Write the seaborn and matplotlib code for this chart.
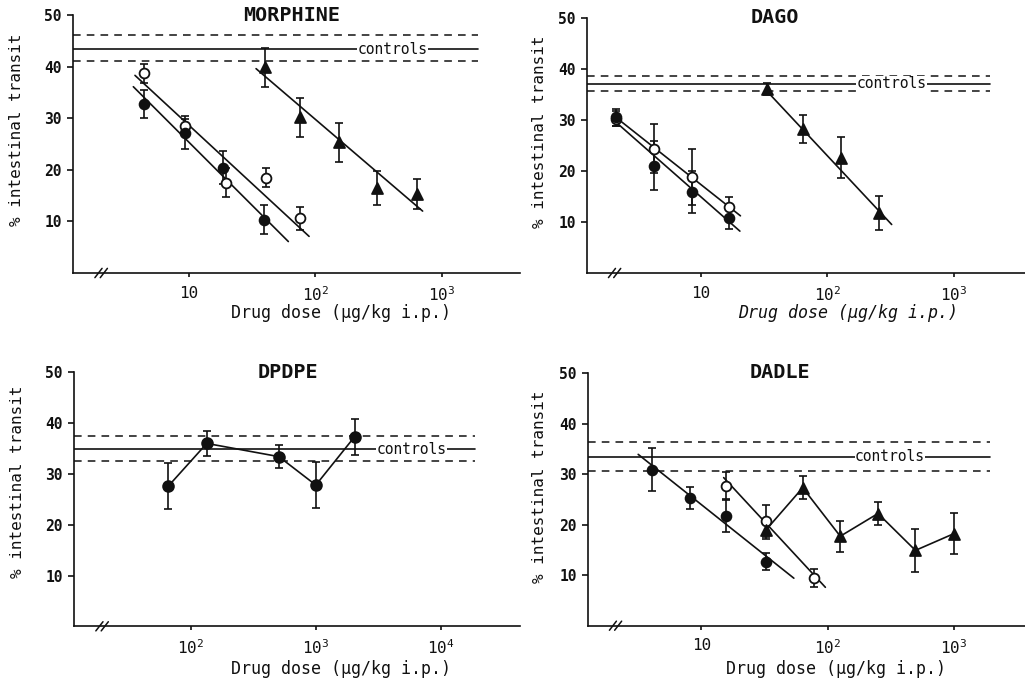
import numpy as np
import pandas as pd
import matplotlib
matplotlib.use("Agg")
import matplotlib.pyplot as plt
import seaborn as sns

sns.set_style("ticks")
plt.rcParams["font.family"] = ["DejaVu Sans Mono", "DejaVu Sans"]
plt.rcParams["mathtext.fontset"] = "custom"
plt.rcParams["mathtext.rm"] = "DejaVu Sans Mono"
plt.rcParams["mathtext.it"] = "DejaVu Sans Mono:italic"
plt.rcParams["mathtext.bf"] = "DejaVu Sans Mono:bold"

# ---------------- MORPHINE ----------------
mor_ctrl = [43.4, 41.0, 46.2]          # mean, lower SEM, upper SEM
mor_open_dose = [4.4, 9.3, 19.6, 40.4, 76]
mor_open_val = [38.7, 28.5, 17.5, 18.5, 10.6]
mor_open_sem = [1.8, 1.3, 2.8, 1.8, 2.2]
mor_fill_dose = [4.4, 9.3, 18.5, 39.4]
mor_fill_val = [32.8, 27.2, 20.4, 10.3]
mor_fill_sem = [2.7, 3.2, 3.2, 2.8]
mor_tri_dose = [40, 75, 153, 309, 630]
mor_tri_val = [39.9, 30.2, 25.3, 16.5, 15.3]
mor_tri_sem = [3.8, 3.8, 3.7, 3.3, 2.9]
mor_open_fit = ([3.74, 89], [38.3, 7.1])
mor_fill_fit = ([3.63, 61], [36.1, 6.1])
mor_tri_fit = ([33.9, 703], [39.6, 12.0])

# ---------------- DAGO ----------------
dago_ctrl = [37.1, 35.7, 38.6]
dago_open_dose = [2.13, 4.23, 8.5, 16.6]
dago_open_val = [30.2, 24.3, 18.8, 12.9]
dago_open_sem = [1.5, 4.8, 5.5, 2.0]
dago_fill_dose = [2.13, 4.23, 8.5, 16.6]
dago_fill_val = [30.5, 21.0, 15.9, 10.8]
dago_fill_sem = [1.7, 4.8, 4.1, 2.1]
dago_tri_dose = [33.4, 64, 128, 255]
dago_tri_val = [36.1, 28.2, 22.6, 11.8]
dago_tri_sem = [1.2, 2.7, 4.0, 3.3]
dago_open_fit = ([2.04, 20.5], [30.8, 11.2])
dago_fill_fit = ([2.04, 20.3], [29.9, 8.2])
dago_tri_fit = ([32.7, 323], [35.8, 9.5])

# ---------------- DPDPE ----------------
dpdpe_ctrl = [34.9, 32.5, 37.4]
dpdpe_dose = [66, 134, 506, 1000, 2040]
dpdpe_val = [27.6, 36.0, 33.4, 27.8, 37.3]
dpdpe_sem = [4.6, 2.5, 2.3, 4.5, 3.5]

# ---------------- DADLE ----------------
dadle_ctrl = [33.4, 30.6, 36.4]
dadle_fill_dose = [4.06, 8.1, 15.7, 32.6]
dadle_fill_val = [30.9, 25.2, 21.8, 12.7]
dadle_fill_sem = [4.3, 2.2, 3.2, 1.6]
dadle_open_dose = [15.7, 32.6, 78]
dadle_open_val = [27.6, 20.7, 9.4]
dadle_open_sem = [2.8, 3.1, 1.8]
dadle_tri_dose = [32.6, 63.5, 126, 251, 497, 1000]
dadle_tri_val = [19.0, 27.3, 17.7, 22.2, 14.9, 18.2]
dadle_tri_sem = [1.8, 2.3, 3.1, 2.2, 4.3, 4.1]
dadle_fill_fit = ([3.15, 54], [33.9, 9.4])
dadle_open_fit = ([15.0, 96], [29.3, 7.6])

titles = ["MORPHINE", "DAGO", "DPDPE", "DADLE"]
ylabel = "% intestinal transit"
xlabel = "Drug dose (\u00b5g/kg i.p.)"
yticks = [10, 20, 30, 40, 50]
xtick_sets = [
    ([10, 100, 1000], ["10", "$10^2$", "$10^3$"]),
    ([10, 100, 1000], ["10", "$10^2$", "$10^3$"]),
    ([100, 1000, 10000], ["$10^2$", "$10^3$", "$10^4$"]),
    ([10, 100, 1000], ["10", "$10^2$", "$10^3$"]),
]

LW = 1.2
INK = "#111111"

fig = plt.figure(figsize=(10.25, 6.78), dpi=100)

W, H = 1025.0, 678.0


def rect(l, r, t, b):
    return [l / W, 1 - b / H, (r - l) / W, (b - t) / H]


panel_rects = [rect(73, 520, 15, 273), rect(587, 1025, 17.7, 273),
               rect(74, 520, 372.3, 626.3), rect(588, 1025, 373, 625.7)]
xlims = [(1.21, 4140), (1.25, 3673), (11.6, 43050), (1.26, 3673)]
ctrl_span = [0.906, 0.92, 0.90, 0.92]
ctrl_text_x = [0.714, 0.696, 0.756, 0.691]
title_x = [0.49, 0.43, 0.48, 0.44]
ylabel_pos = [(17, 130), (540, 132), (18, 482), (539, 487)]
xlabel_pos = [(341, 313), (848, 313), (341, 669), (836, 669)]


def errorbars(ax, dose, val, sem):
    ax.errorbar(dose, val, yerr=sem, fmt="none", ecolor=INK,
                elinewidth=LW, capsize=3.2, capthick=LW, zorder=3)


def points(ax, dose, val, marker, filled, size=50):
    df = pd.DataFrame({"dose": dose, "val": val})
    sns.scatterplot(data=df, x="dose", y="val", ax=ax, marker=marker, s=size,
                    color=INK if filled else "white", edgecolor=INK,
                    linewidth=1.3, zorder=5, legend=False)


def line(ax, dose, val):
    df = pd.DataFrame({"dose": dose, "val": val})
    sns.lineplot(data=df, x="dose", y="val", ax=ax, color=INK, lw=LW,
                 sort=False, estimator=None, zorder=4, legend=False)


def controls(ax, ctrl, span, tx):
    mean, lo, hi = ctrl
    ax.axhline(mean, xmin=0, xmax=span, color=INK, lw=LW, zorder=1)
    for v in (lo, hi):
        ax.axhline(v, xmin=0, xmax=span, color=INK, lw=1.1,
                   ls=(0, (5, 4)), zorder=1)
    ax.text(tx, mean, "controls", transform=ax.get_yaxis_transform(),
            ha="center", va="center", fontsize=10.5, color=INK, zorder=2,
            bbox=dict(facecolor="white", edgecolor="none", pad=0.3))


axes = [fig.add_axes(r) for r in panel_rects]

# MORPHINE
ax = axes[0]
for d, v in (mor_open_fit, mor_fill_fit, mor_tri_fit):
    line(ax, d, v)
errorbars(ax, mor_open_dose, mor_open_val, mor_open_sem)
errorbars(ax, mor_fill_dose, mor_fill_val, mor_fill_sem)
errorbars(ax, mor_tri_dose, mor_tri_val, mor_tri_sem)
points(ax, mor_open_dose, mor_open_val, "o", False)
points(ax, mor_fill_dose, mor_fill_val, "o", True)
points(ax, mor_tri_dose, mor_tri_val, "^", True, 62)

# DAGO
ax = axes[1]
for d, v in (dago_open_fit, dago_fill_fit, dago_tri_fit):
    line(ax, d, v)
errorbars(ax, dago_open_dose, dago_open_val, dago_open_sem)
errorbars(ax, dago_fill_dose, dago_fill_val, dago_fill_sem)
errorbars(ax, dago_tri_dose, dago_tri_val, dago_tri_sem)
points(ax, dago_open_dose, dago_open_val, "o", False)
points(ax, dago_fill_dose, dago_fill_val, "o", True)
points(ax, dago_tri_dose, dago_tri_val, "^", True, 62)

# DPDPE
ax = axes[2]
line(ax, dpdpe_dose, dpdpe_val)
errorbars(ax, dpdpe_dose, dpdpe_val, dpdpe_sem)
points(ax, dpdpe_dose, dpdpe_val, "o", True, 60)

# DADLE
ax = axes[3]
for d, v in (dadle_fill_fit, dadle_open_fit):
    line(ax, d, v)
line(ax, dadle_tri_dose, dadle_tri_val)
errorbars(ax, dadle_fill_dose, dadle_fill_val, dadle_fill_sem)
errorbars(ax, dadle_open_dose, dadle_open_val, dadle_open_sem)
errorbars(ax, dadle_tri_dose, dadle_tri_val, dadle_tri_sem)
points(ax, dadle_fill_dose, dadle_fill_val, "o", True)
points(ax, dadle_open_dose, dadle_open_val, "o", False)
points(ax, dadle_tri_dose, dadle_tri_val, "^", True, 62)

# shared axis styling, applied after the seaborn calls
for i, ax in enumerate(axes):
    ax.set_xscale("log")
    ax.set_xlim(*xlims[i])
    ax.set_ylim(0, 50)
    ax.set_yticks(yticks)
    ax.set_yticklabels([str(t) for t in yticks], fontsize=10.5, fontweight="bold")
    ticks, labels = xtick_sets[i]
    ax.set_xticks(ticks)
    ax.set_xticklabels(labels, fontsize=11.5)
    ax.xaxis.set_minor_locator(matplotlib.ticker.NullLocator())
    ax.tick_params(axis="both", direction="out", length=4, width=LW,
                   color=INK, labelcolor=INK, pad=4)
    ax.tick_params(axis="x", length=3, pad=6)
    for s in ("top", "right"):
        ax.spines[s].set_visible(False)
    for s in ("left", "bottom"):
        ax.spines[s].set_linewidth(LW)
        ax.spines[s].set_color(INK)
    ax.set_xlabel("")
    ax.set_ylabel("")
    # axis break marks
    for dx in (-0.006, 0.006):
        ax.plot([0.055 + dx, 0.071 + dx], [-0.018, 0.018], transform=ax.transAxes,
                color=INK, lw=1.1, clip_on=False, zorder=6)
    ax.text(title_x[i], 1.0, titles[i], transform=ax.transAxes, ha="center",
            va="center", fontsize=14.5, fontweight="bold", color=INK)
    controls(ax, [mor_ctrl, dago_ctrl, dpdpe_ctrl, dadle_ctrl][i],
             ctrl_span[i], ctrl_text_x[i])
    fig.text(ylabel_pos[i][0] / W, 1 - ylabel_pos[i][1] / H, ylabel,
             rotation=90, ha="center", va="center", fontsize=11.5, color=INK)
    fig.text(xlabel_pos[i][0] / W, 1 - xlabel_pos[i][1] / H, xlabel,
             ha="center", va="center", fontsize=12, color=INK,
             style="italic" if i == 1 else "normal")

fig.savefig("out.png", dpi=100)
